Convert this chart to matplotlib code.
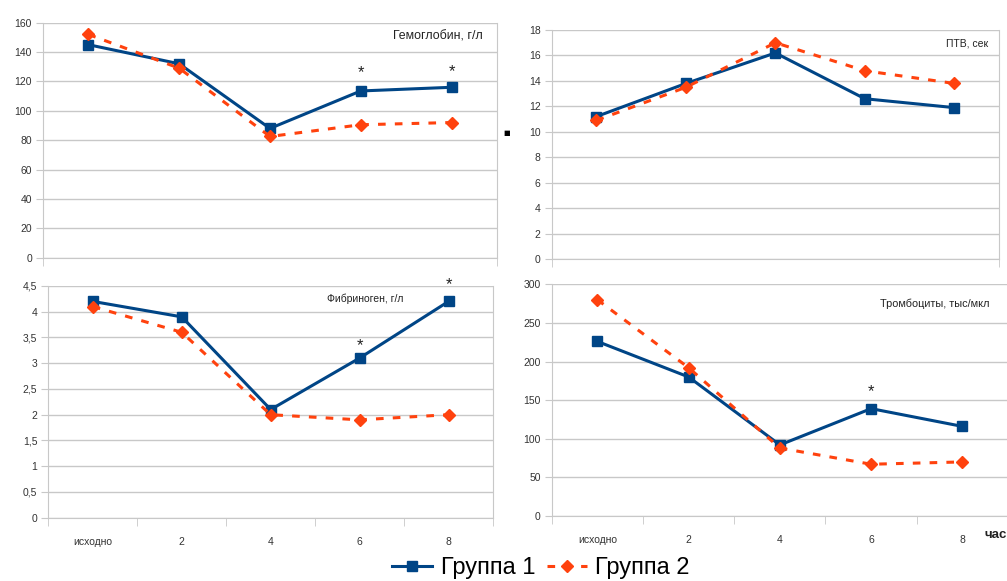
import numpy as np
import matplotlib.pyplot as plt
from matplotlib.ticker import FixedLocator

plt.rcParams['font.family'] = ['Liberation Sans', 'DejaVu Sans']

cats = ['исходно', '2', '4', '6', '8']

hb_g1 = [145, 132, 88, 113.5, 116]
hb_g2 = [152, 129, 82.5, 90.5, 92]

ptv_g1 = [11.2, 13.8, 16.2, 12.6, 11.9]
ptv_g2 = [10.9, 13.5, 17.0, 14.8, 13.8]

fib_g1 = [4.2, 3.9, 2.1, 3.1, 4.2]
fib_g2 = [4.1, 3.6, 2.0, 1.9, 2.0]

plt_g1 = [226, 180, 92, 139, 116]
plt_g2 = [280, 192, 88, 67, 70]

blue = '#004586'
orange = '#ff420e'
grid_c = '#c8c8c8'

fig = plt.figure(figsize=(10.07, 5.81), dpi=100)


def panel(rect, g1, g2, ymax, ystep, title, tpos, tsize, stars, fmt, xlabels):
    ax = fig.add_axes(rect)
    x = np.arange(len(cats))
    ax.plot(x, g1, color=blue, lw=2.2, marker='s', ms=7.5, zorder=3, label='Группа 1')
    ax.plot(x, g2, color=orange, lw=2.2, ls=(0, (2.5, 3)), marker='D', ms=6.5,
            zorder=3, label='Группа 2')
    ax.set_xlim(-0.5, 4.5)
    ax.set_ylim(0, ymax)
    yt = np.arange(0, ymax + ystep / 2, ystep)
    ax.set_yticks(yt)
    ax.set_yticklabels([fmt(v) for v in yt])
    ax.grid(axis='y', color=grid_c, lw=1)
    ax.set_axisbelow(True)
    for s in ax.spines.values():
        s.set_color(grid_c)
    ax.spines['top'].set_visible(False)
    ax.tick_params(axis='y', length=5, color=grid_c, labelsize=7.5,
                   labelcolor='#333333', pad=3)
    ax.set_xticks(x)
    if xlabels:
        ax.set_xticklabels(cats)
        ax.xaxis.set_minor_locator(FixedLocator(np.arange(-0.5, 4.6, 1)))
    else:
        ax.set_xticklabels([])
        ax.xaxis.set_minor_locator(FixedLocator([-0.5, 4.5]))
    ax.tick_params(axis='x', which='major', length=0, labelsize=7.5,
                   labelcolor='#333333', pad=14)
    ax.tick_params(axis='x', which='minor', length=6, color=grid_c)
    ax.text(tpos[0], tpos[1], title, transform=ax.transAxes, ha='right',
            va='center', fontsize=tsize, color='#222222')
    for sx, sy in stars:
        ax.text(sx, sy, '*', ha='center', va='center', fontsize=12,
                color='#222222', clip_on=False)
    return ax


def num(v):
    return ('%g' % v).replace('.', ',')


panel([0.0427, 0.5565, 0.4508, 0.4045], hb_g1, hb_g2, 160, 20,
      'Гемоглобин, г/л', (0.968, 0.939), 8.9, [(3, 126), (4, 127)], num, False)
panel([0.5479, 0.5542, 0.4442, 0.3941], ptv_g1, ptv_g2, 18, 2,
      'ПТВ, сек', (0.975, 0.943), 7.5, [], num, False)
panel([0.0480, 0.1090, 0.4416, 0.3988], fib_g1, fib_g2, 4.5, 0.5,
      'Фибриноген, г/л', (0.798, 0.944), 7.5, [(3, 3.35), (4, 4.52)], num, True)
ax4 = panel([0.5479, 0.1119, 0.4531, 0.3988], plt_g1, plt_g2, 300, 50,
            'Тромбоциты, тыс/мкл', (0.9605, 0.915), 7.8, [(3, 161)], num, True)

fig.text(0.9995, 1 - 535 / 581, 'час', ha='right', va='center',
         fontsize=9.5, fontweight='bold', color='#222222')

# small stray marker between the top panels
fig.text(507 / 1007, 1 - 133 / 581, '■', ha='center', va='center',
         fontsize=5, color='black', family=['DejaVu Sans'])

h, l = ax4.get_legend_handles_labels()
fig.legend(h, l, loc='center', bbox_to_anchor=(541 / 1007, 1 - 568 / 581),
           ncol=2, frameon=False, fontsize=17, handlelength=1.7,
           handletextpad=0.35, columnspacing=0.5, borderpad=0)

fig.savefig('out.png', dpi=100)
